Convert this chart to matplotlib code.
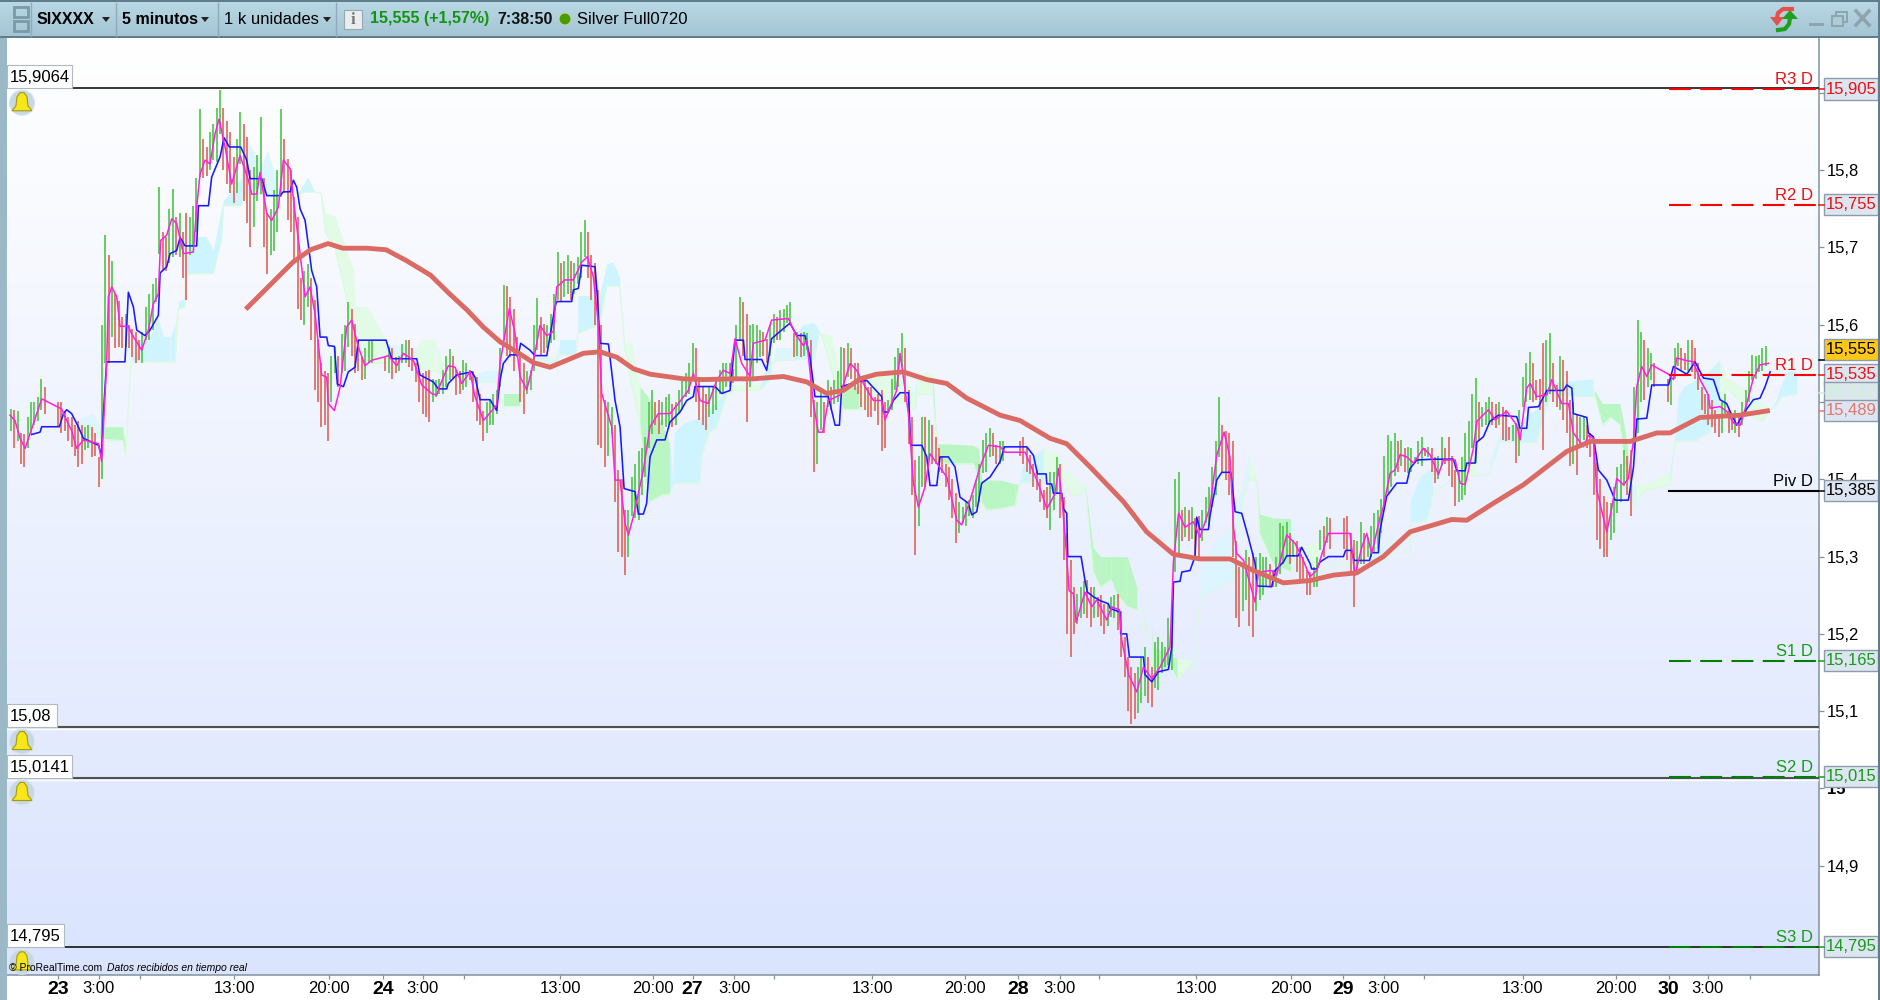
# -*- coding: utf-8 -*-
# 5 minute silver chart, trading platform look
import numpy as np
import matplotlib
matplotlib.use('Agg')
import matplotlib.pyplot as plt
from matplotlib.patches import Rectangle, Circle, Polygon

plt.rcParams['font.family'] = ['Liberation Sans', 'DejaVu Sans']

# x is hours of trading time since the start of day 23
# high / low of the sticks, one every half hour, starting at -3.5h
nan = float('nan')
stick_high = [
    15.491, 15.489, 15.459, 15.500, 15.507, 15.519, nan, 15.500, 15.489, 15.481,
    15.476, 15.468, 15.468, 15.429, 15.716, 15.683, 15.631, 15.614, 15.595, 15.580,
    15.623, 15.653, 15.778, 15.713, 15.776, 15.744, 15.744, 15.754, 15.879, 15.830,
    15.860, 15.904, 15.864, 15.817, 15.875, 15.843, 15.804, 15.869, 15.744, 15.774,
    15.879, 15.815, 15.765, 15.660, 15.679, 15.632, 15.550, 15.537, 15.571, 15.588,
    15.629, 15.601, 15.558, 15.580, nan, nan, 15.571, 15.558, 15.575, 15.580,
    15.550, 15.537, 15.541, 15.528, 15.541, 15.569, 15.541, 15.554, 15.541, 15.532,
    15.489, 15.502, 15.515, 15.651, 15.636, 15.584, 15.550, 15.541, 15.634, 15.601,
    15.614, 15.694, 15.683, 15.683, 15.688, 15.735, 15.690, 15.645, 15.502, 15.494,
    15.412, 15.360, 15.403, 15.436, 15.455, 15.515, 15.502, 15.507, 15.498, 15.515,
    15.537, 15.576, 15.533, 15.511, 15.520, 15.541, 15.550, 15.543, 15.636, 15.614,
    15.601, 15.593, 15.582, 15.614, 15.619, 15.625, 15.589, 15.589, 15.589, 15.502,
    15.515, 15.528, 15.528, 15.571, 15.576, 15.550, 15.528, 15.520, 15.507, 15.515,
    15.502, 15.558, 15.589, 15.515, 15.425, 15.481, 15.477, 15.455, 15.429, 15.416,
    15.382, 15.364, 15.373, 15.399, 15.451, 15.466, 15.444, 15.450, nan, nan,
    15.455, 15.431, 15.412, 15.386, 15.409, 15.429, 15.377, 15.295, 15.252, 15.269,
    15.261, 15.248, 15.239, 15.248, 15.252, 15.196, 15.157, 15.157, 15.183, 15.157,
    15.196, 15.183, 15.239, 15.409, 15.364, 15.364, 15.353, 15.377, 15.416, 15.506,
    15.463, 15.450, 15.287, 15.308, 15.304, 15.304, 15.300, 15.282, 15.343, 15.345,
    15.321, 15.312, 15.282, 15.287, 15.334, 15.351, nan, nan, 15.353, 15.321,
    15.345, 15.325, 15.356, 15.375, 15.457, 15.460, 15.451, 15.442, 15.429, 15.455,
    15.442, 15.429, 15.455, 15.455, 15.412, 15.429, 15.475, 15.531, 15.494, 15.507,
    15.498, 15.494, 15.468, 15.473, 15.533, 15.565, 15.529, 15.576, 15.589, 15.522,
    15.554, 15.503, 15.485, 15.481, 15.460, 15.421, 15.378, 15.369, 15.416, 15.438,
    15.438, 15.606, 15.580, 15.563, nan, nan, 15.535, 15.576, 15.563, 15.580,
    15.550, 15.511, 15.503, 15.485, 15.511, 15.485, 15.485, 15.516, 15.561, 15.561,
    15.572,
]
stick_low = [
    15.463, 15.450, 15.416, 15.459, 15.476, 15.485, nan, 15.468, 15.463, 15.442,
    15.416, 15.438, 15.429, 15.390, 15.550, 15.584, 15.571, 15.571, 15.558, 15.554,
    15.580, 15.593, 15.692, 15.670, 15.688, 15.688, 15.632, 15.700, 15.791, 15.793,
    15.813, 15.847, 15.782, 15.757, 15.808, 15.731, 15.726, 15.769, 15.666, 15.696,
    15.765, 15.735, 15.680, 15.606, 15.623, 15.515, 15.468, 15.450, 15.537, 15.537,
    15.571, 15.537, 15.528, 15.550, nan, nan, 15.537, 15.537, 15.550, 15.545,
    15.526, 15.485, 15.474, 15.507, 15.511, 15.528, 15.509, 15.515, 15.528, 15.476,
    15.450, 15.470, 15.485, 15.580, 15.558, 15.558, 15.485, 15.515, 15.567, 15.563,
    15.576, 15.632, 15.636, 15.632, 15.653, 15.688, 15.632, 15.445, 15.416, 15.459,
    15.306, 15.276, 15.352, 15.347, 15.403, 15.459, 15.459, 15.468, 15.468, 15.485,
    15.507, 15.533, 15.477, 15.464, 15.485, 15.511, 15.520, 15.524, 15.580, 15.474,
    15.533, 15.558, 15.550, 15.576, 15.580, 15.602, 15.558, 15.558, 15.567, 15.410,
    15.464, 15.494, 15.498, 15.520, 15.533, 15.515, 15.494, 15.481, 15.489, 15.436,
    15.485, 15.515, 15.545, 15.446, 15.302, 15.390, 15.425, 15.420, 15.408, 15.373,
    15.317, 15.343, 15.352, 15.364, 15.408, 15.429, 15.420, 15.424, nan, nan,
    15.420, 15.407, 15.386, 15.360, 15.334, 15.381, 15.295, 15.170, 15.213, 15.226,
    15.209, 15.222, 15.200, 15.222, 15.205, 15.144, 15.084, 15.097, 15.119, 15.106,
    15.127, 15.157, 15.153, 15.300, 15.325, 15.323, 15.295, 15.343, 15.364, 15.429,
    15.399, 15.300, 15.209, 15.244, 15.196, 15.244, 15.261, 15.261, 15.278, 15.300,
    15.300, 15.269, 15.250, 15.261, 15.308, 15.317, nan, nan, 15.295, 15.235,
    15.291, 15.300, 15.304, 15.330, 15.382, 15.404, 15.417, 15.408, 15.421, 15.417,
    15.429, 15.395, 15.417, 15.404, 15.365, 15.373, 15.417, 15.421, 15.468, 15.472,
    15.466, 15.451, 15.451, 15.421, 15.494, 15.503, 15.503, 15.438, 15.511, 15.494,
    15.477, 15.417, 15.406, 15.451, 15.429, 15.322, 15.300, 15.322, 15.356, 15.391,
    15.352, 15.460, 15.503, 15.529, nan, nan, 15.496, 15.546, 15.541, 15.539,
    15.516, 15.485, 15.468, 15.455, 15.481, 15.464, 15.455, 15.485, 15.529, 15.539,
    15.546,
]
# second set of sticks between the first ones, starting at -3.25h
inner_high = [
    15.49, 15.46, 15.48, 15.50, 15.53, nan, nan, 15.50, 15.48, 15.47,
    15.47, 15.47, 15.46, 15.60, 15.69, 15.64, 15.61, 15.60, 15.59, 15.59,
    15.64, 15.66, 15.72, 15.75, 15.74, 15.72, 15.74, 15.79, 15.84, 15.85,
    15.88, 15.88, 15.85, 15.84, 15.86, 15.80, 15.82, 15.79, 15.75, 15.80,
    15.84, 15.80, 15.74, 15.67, 15.66, 15.58, 15.54, 15.56, 15.56, 15.60,
    15.62, 15.58, 15.57, 15.58, nan, 15.56, 15.57, 15.56, 15.58, 15.57,
    15.54, 15.54, 15.53, 15.53, 15.56, 15.56, 15.54, 15.55, 15.54, 15.51,
    15.50, 15.51, 15.57, 15.65, 15.62, 15.56, 15.54, 15.60, 15.61, 15.60,
    15.64, 15.68, 15.69, 15.68, 15.72, 15.72, 15.68, 15.60, 15.50, 15.47,
    15.40, 15.36, 15.42, 15.44, 15.50, 15.50, 15.50, 15.51, 15.50, 15.53,
    15.55, 15.57, 15.52, 15.52, 15.53, 15.55, 15.55, 15.60, 15.63, 15.60,
    15.60, 15.59, 15.60, 15.61, 15.62, 15.63, 15.59, 15.59, 15.58, 15.50,
    15.50, 15.52, 15.54, 15.57, 15.57, 15.55, 15.53, 15.52, 15.51, 15.50,
    15.53, 15.57, 15.57, 15.48, 15.43, 15.48, 15.47, 15.44, 15.42, 15.40,
    15.37, 15.37, 15.38, 15.42, 15.46, 15.46, 15.45, nan, nan, 15.45,
    15.44, 15.42, 15.40, 15.39, 15.41, 15.42, 15.33, 15.26, 15.26, 15.27,
    15.26, 15.25, 15.24, 15.25, 15.23, 15.17, 15.15, 15.17, 15.17, 15.19,
    15.19, 15.22, 15.40, 15.36, 15.36, 15.35, 15.36, 15.39, 15.45, 15.47,
    15.46, 15.32, 15.29, 15.30, 15.30, 15.30, 15.29, 15.30, 15.34, 15.33,
    15.32, 15.30, 15.28, 15.30, 15.34, 15.35, nan, 15.35, 15.33, 15.32,
    15.33, 15.34, 15.36, 15.43, 15.45, 15.45, 15.44, 15.44, 15.45, 15.44,
    15.44, 15.43, 15.44, 15.43, 15.41, 15.46, 15.51, 15.50, 15.50, 15.50,
    15.50, 15.49, 15.47, 15.49, 15.55, 15.55, 15.53, 15.58, 15.55, 15.56,
    15.54, 15.50, 15.48, 15.47, 15.45, 15.40, 15.37, 15.39, 15.42, 15.43,
    15.52, 15.59, 15.57, 15.55, nan, 15.53, 15.57, 15.57, 15.58, 15.57,
    15.52, 15.51, 15.49, 15.50, 15.49, 15.49, 15.50, 15.54, 15.56, 15.57,
]
inner_low = [
    15.44, 15.42, 15.44, 15.47, 15.49, nan, nan, 15.46, 15.45, 15.43,
    15.42, 15.44, 15.43, 15.40, 15.55, 15.57, 15.57, 15.57, 15.55, 15.55,
    15.58, 15.63, 15.67, 15.68, 15.69, 15.66, 15.69, 15.72, 15.79, 15.80,
    15.81, 15.80, 15.77, 15.77, 15.76, 15.70, 15.76, 15.70, 15.69, 15.72,
    15.77, 15.72, 15.62, 15.60, 15.58, 15.50, 15.47, 15.50, 15.52, 15.54,
    15.56, 15.54, 15.53, 15.55, nan, 15.54, 15.53, 15.54, 15.55, 15.54,
    15.50, 15.48, 15.50, 15.51, 15.52, 15.53, 15.51, 15.52, 15.50, 15.47,
    15.46, 15.47, 15.52, 15.56, 15.54, 15.50, 15.51, 15.54, 15.56, 15.57,
    15.58, 15.63, 15.64, 15.64, 15.66, 15.66, 15.60, 15.44, 15.43, 15.37,
    15.30, 15.30, 15.35, 15.38, 15.44, 15.47, 15.47, 15.47, 15.47, 15.49,
    15.51, 15.50, 15.47, 15.48, 15.49, 15.51, 15.52, 15.53, 15.56, 15.52,
    15.55, 15.56, 15.56, 15.58, 15.59, 15.60, 15.56, 15.56, 15.48, 15.42,
    15.46, 15.49, 15.50, 15.52, 15.53, 15.51, 15.49, 15.48, 15.47, 15.44,
    15.49, 15.52, 15.50, 15.38, 15.34, 15.39, 15.42, 15.41, 15.39, 15.35,
    15.33, 15.34, 15.35, 15.37, 15.41, 15.43, 15.42, nan, nan, 15.43,
    15.41, 15.39, 15.37, 15.35, 15.36, 15.35, 15.20, 15.20, 15.22, 15.22,
    15.22, 15.21, 15.21, 15.22, 15.17, 15.10, 15.09, 15.11, 15.11, 15.13,
    15.15, 15.16, 15.28, 15.32, 15.32, 15.30, 15.32, 15.34, 15.38, 15.41,
    15.38, 15.22, 15.23, 15.21, 15.23, 15.25, 15.26, 15.26, 15.29, 15.29,
    15.28, 15.27, 15.25, 15.26, 15.30, 15.31, nan, 15.31, 15.28, 15.28,
    15.29, 15.30, 15.31, 15.36, 15.39, 15.41, 15.41, 15.41, 15.42, 15.43,
    15.41, 15.40, 15.42, 15.39, 15.37, 15.38, 15.44, 15.45, 15.47, 15.47,
    15.47, 15.45, 15.45, 15.43, 15.50, 15.50, 15.49, 15.50, 15.50, 15.49,
    15.46, 15.42, 15.44, 15.44, 15.38, 15.31, 15.30, 15.33, 15.37, 15.38,
    15.44, 15.50, 15.52, 15.52, nan, 15.50, 15.53, 15.54, 15.54, 15.53,
    15.49, 15.47, 15.46, 15.46, 15.46, 15.46, 15.47, 15.50, 15.53, 15.54,
]

# slow moving average (thick red line)
ma_h = [13.9, 15.45, 17.4, 18.7, 20.0, 21.1, 22.9, 24.3, 25.8, 27.6,
        29.0, 30.3, 31.5, 32.74, 33.97, 35.2, 36.44, 37.68, 38.91, 40.15,
        41.38, 42.62, 43.85, 45.09, 46.32, 47.8, 50.02, 51.5, 53.73, 55.46,
        56.94, 58.17, 59.41, 60.64, 62.6, 64.35, 65.83, 67.31, 69.78, 71.26,
        73.48, 74.72, 76.45, 78.92, 80.64, 82.62, 84.59, 86.82, 88.54, 90.77,
        92.74, 94.47, 96.2, 98.17, 100.15, 103.24, 104.35, 106.32, 108.55, 111.75,
        113.49, 116.45, 118.42, 119.41, 121.63, 124.6, 126.8]
ma_p = [15.62, 15.647, 15.681, 15.697, 15.705, 15.699, 15.699, 15.697, 15.683, 15.664,
        15.640, 15.619, 15.597, 15.578, 15.565, 15.551, 15.545, 15.554, 15.563, 15.565,
        15.558, 15.543, 15.536, 15.533, 15.530, 15.529, 15.530, 15.530, 15.533, 15.526,
        15.511, 15.515, 15.530, 15.536, 15.539, 15.529, 15.524, 15.505, 15.483, 15.476,
        15.453, 15.446, 15.416, 15.371, 15.332, 15.303, 15.297, 15.297, 15.282, 15.266,
        15.269, 15.276, 15.279, 15.300, 15.332, 15.348, 15.347, 15.369, 15.393, 15.436,
        15.449, 15.449, 15.460, 15.460, 15.480, 15.483, 15.489]

# stepped blue line
blue_h = [-1.95, -1.33, -1.21, 0.1, 0.4, 0.64, 1.01, 1.5, 1.88, 3.0,
          3.23, 3.36, 3.6, 4.96, 5.21, 5.58, 5.83, 6.44, 6.81, 7.43,
          7.56, 8.05, 8.3, 8.79, 9.04, 9.41, 10.27, 10.4, 11.14, 11.38,
          12.0, 12.3, 12.69, 13.53, 13.98, 14.22, 15.09, 15.46, 16.44, 16.69,
          17.19, 17.43, 17.68, 17.93, 18.3, 18.54, 18.79, 19.16, 19.41, 19.9,
          20.02, 20.47, 20.69, 21.14, 21.5, 22.0, 22.25, 24.3, 24.72, 26.57,
          26.81, 27.8, 28.17, 28.79, 28.91, 29.53, 30.64, 30.89, 31.26, 32.0,
          32.49, 32.74, 32.99, 33.48, 34.1, 34.27, 34.96, 35.33, 36.2, 36.81,
          36.94, 38.05, 38.17, 38.54, 38.79, 39.78, 39.95, 40.15, 40.77, 41.26,
          41.63, 41.93, 42.74, 42.99, 43.36, 43.6, 43.85, 44.35, 44.96, 45.33,
          46.07, 46.57, 47.06, 47.18, 48.67, 49.16, 49.78, 50.15, 50.77, 50.89,
          52.12, 52.49, 52.86, 53.73, 54.22, 54.72, 55.33, 55.7, 56.07, 57.06,
          57.56, 57.88, 58.05, 59.16, 59.9, 61.01, 61.14, 61.5, 61.88, 62.37,
          62.99, 63.16, 63.98, 64.35, 64.59, 65.09, 65.33, 65.95, 66.44, 66.81,
          67.43, 67.68, 68.05, 68.42, 69.04, 69.78, 70.1, 71.76, 72.25, 72.55,
          73.19, 73.24, 73.6, 73.73, 74.35, 74.47, 74.72, 74.79, 75.78, 76.07,
          76.25, 76.69, 77.19, 77.8, 77.93, 78.67, 78.72, 79.16, 79.36, 80.4,
          80.52, 81.02, 81.51, 82.25, 82.5, 82.62, 83.11, 83.24, 83.85, 84.22,
          84.35, 84.59, 85.21, 85.33, 85.83, 86.2, 86.87, 87.19, 87.68, 88.17,
          88.67, 88.84, 89.9, 90.15, 90.77, 91.01, 91.88, 92.12, 92.74, 92.86,
          93.24, 93.48, 94.1, 95.21, 95.38, 95.83, 96.0, 97.14, 97.31, 97.8,
          97.93, 98.42, 99.16, 99.9, 100.15, 100.65, 101.88, 103.36, 103.61, 104.23,
          104.35, 104.97, 105.09, 105.58, 106.07, 106.7, 108.05, 108.3, 108.79, 108.92,
          109.66, 110.28, 111.51, 111.76, 112.13, 112.25, 113.24, 113.36, 113.73, 114.1,
          114.72, 115.34, 116.32, 116.7, 116.94, 117.68, 118.05, 119.29, 119.66, 120.65,
          121.26, 121.88, 122.62, 123.11, 123.6, 123.85, 124.35, 124.84, 125.58, 126.07,
          126.45, 126.82]
blue_p = [15.458, 15.461, 15.468, 15.468, 15.485, 15.490, 15.485, 15.468, 15.453, 15.444,
          15.431, 15.485, 15.552, 15.552, 15.642, 15.623, 15.593, 15.586, 15.593, 15.612,
          15.667, 15.675, 15.692, 15.696, 15.713, 15.702, 15.702, 15.754, 15.754, 15.791,
          15.817, 15.842, 15.830, 15.830, 15.813, 15.789, 15.789, 15.767, 15.767, 15.772,
          15.772, 15.787, 15.778, 15.750, 15.735, 15.703, 15.670, 15.649, 15.584, 15.584,
          15.573, 15.572, 15.523, 15.520, 15.539, 15.545, 15.580, 15.580, 15.556, 15.556,
          15.535, 15.526, 15.517, 15.517, 15.524, 15.535, 15.539, 15.532, 15.503, 15.503,
          15.489, 15.528, 15.550, 15.561, 15.561, 15.576, 15.567, 15.560, 15.560, 15.623,
          15.630, 15.630, 15.645, 15.647, 15.677, 15.675, 15.636, 15.576, 15.575, 15.502,
          15.468, 15.388, 15.384, 15.355, 15.355, 15.369, 15.429, 15.451, 15.451, 15.474,
          15.487, 15.502, 15.507, 15.520, 15.520, 15.511, 15.515, 15.580, 15.580, 15.555,
          15.555, 15.541, 15.582, 15.595, 15.602, 15.586, 15.586, 15.558, 15.507, 15.507,
          15.470, 15.470, 15.520, 15.526, 15.528, 15.507, 15.487, 15.487, 15.502, 15.512,
          15.512, 15.444, 15.444, 15.429, 15.392, 15.392, 15.429, 15.429, 15.416, 15.377,
          15.369, 15.354, 15.358, 15.395, 15.403, 15.423, 15.442, 15.442, 15.431, 15.407,
          15.407, 15.394, 15.394, 15.382, 15.382, 15.362, 15.356, 15.300, 15.300, 15.269,
          15.254, 15.248, 15.243, 15.239, 15.233, 15.228, 15.200, 15.200, 15.170, 15.170,
          15.147, 15.138, 15.151, 15.154, 15.183, 15.267, 15.268, 15.280, 15.282, 15.300,
          15.351, 15.335, 15.335, 15.353, 15.399, 15.409, 15.409, 15.358, 15.356, 15.325,
          15.291, 15.262, 15.261, 15.282, 15.293, 15.301, 15.301, 15.312, 15.291, 15.284,
          15.284, 15.293, 15.300, 15.300, 15.308, 15.308, 15.295, 15.295, 15.305, 15.305,
          15.335, 15.378, 15.395, 15.395, 15.414, 15.425, 15.426, 15.426, 15.411, 15.411,
          15.421, 15.421, 15.448, 15.455, 15.475, 15.483, 15.481, 15.466, 15.466, 15.493,
          15.494, 15.515, 15.515, 15.522, 15.518, 15.485, 15.480, 15.460, 15.455, 15.412,
          15.399, 15.373, 15.373, 15.416, 15.478, 15.479, 15.522, 15.522, 15.546, 15.536,
          15.552, 15.531, 15.529, 15.503, 15.498, 15.488, 15.470, 15.485, 15.503, 15.505,
          15.520, 15.539]

# fast magenta line
mag_h = [-3.56, -3.19, -2.81, -2.44, -2.07, -1.58, -1.21, 0.27, 0.64, 1.01,
         1.38, 1.88, 2.99, 3.23, 3.6, 3.73, 3.98, 4.35, 4.59, 5.21,
         5.46, 6.2, 6.69, 7.06, 7.43, 7.6, 8.05, 8.42, 8.79, 9.28,
         10.02, 10.27, 10.52, 10.89, 11.26, 11.63, 11.93, 12.37, 12.86, 13.48,
         14.1, 14.35, 14.72, 14.96, 15.46, 15.83, 16.32, 16.69, 17.19, 17.56,
         17.93, 18.3, 18.67, 19.04, 19.53, 19.9, 20.02, 20.47, 20.89, 21.38,
         21.75, 22.25, 22.74, 23.23, 24.1, 24.47, 25.09, 25.58, 26.32, 26.94,
         27.68, 28.05, 28.3, 28.91, 29.41, 29.9, 30.52, 30.89, 31.51, 32.49,
         32.74, 32.99, 33.43, 33.85, 34.22, 34.72, 35.09, 35.7, 36.2, 36.69,
         36.94, 37.56, 38.17, 38.79, 39.21, 39.65, 40.02, 40.27, 41.01, 41.26,
         41.63, 42.0, 42.25, 42.62, 43.36, 43.85, 44.47, 45.33, 45.95, 46.69,
         47.06, 47.56, 48.17, 48.79, 49.28, 49.78, 50.15, 50.64, 51.26, 51.5,
         52.37, 52.86, 54.1, 54.59, 55.21, 55.46, 55.95, 56.32, 56.64, 57.06,
         57.93, 58.67, 59.16, 59.78, 60.4, 61.01, 61.26, 62.12, 62.37, 62.99,
         63.36, 63.73, 64.22, 64.59, 65.83, 66.57, 66.94, 67.56, 68.3, 68.91,
         69.78, 70.15, 71.63, 72.0, 72.62, 73.24, 73.85, 74.1, 74.35, 74.72,
         74.89, 75.21, 75.41, 76.07, 76.57, 76.94, 77.68, 78.05, 78.62, 78.79,
         79.31, 79.9, 80.4, 81.02, 81.63, 82.37, 82.62, 83.0, 83.48, 84.1,
         84.59, 85.33, 85.83, 86.37, 86.81, 87.07, 87.31, 87.81, 88.67, 88.91,
         89.9, 90.27, 91.01, 91.63, 92.12, 92.74, 93.24, 94.1, 95.7, 96.07,
         96.57, 96.94, 97.31, 97.93, 98.18, 98.67, 99.04, 99.41, 99.9, 100.4,
         101.14, 101.63, 102.25, 102.62, 103.49, 103.86, 104.23, 104.84, 105.09, 105.95,
         106.45, 107.31, 108.05, 108.3, 108.79, 109.04, 109.53, 110.28, 110.65, 111.38,
         111.88, 112.25, 112.99, 113.36, 113.73, 113.98, 114.72, 115.09, 115.46, 115.95,
         116.32, 116.7, 116.94, 117.31, 117.68, 118.05, 119.29, 119.66, 119.9, 120.52,
         121.14, 121.63, 122.25, 122.37, 123.11, 123.6, 124.1, 124.6, 125.09, 125.58,
         126.07, 126.69]
mag_p = [15.483, 15.476, 15.453, 15.440, 15.459, 15.485, 15.504, 15.491, 15.476, 15.463,
         15.440, 15.451, 15.446, 15.423, 15.550, 15.636, 15.649, 15.636, 15.598, 15.598,
         15.588, 15.567, 15.593, 15.627, 15.640, 15.709, 15.716, 15.737, 15.731, 15.692,
         15.694, 15.752, 15.795, 15.813, 15.808, 15.847, 15.866, 15.830, 15.782, 15.819,
         15.787, 15.769, 15.769, 15.797, 15.744, 15.735, 15.752, 15.813, 15.802, 15.744,
         15.692, 15.636, 15.649, 15.614, 15.535, 15.532, 15.498, 15.489, 15.519, 15.597,
         15.606, 15.571, 15.547, 15.554, 15.558, 15.560, 15.547, 15.563, 15.554, 15.522,
         15.511, 15.509, 15.522, 15.547, 15.545, 15.524, 15.539, 15.507, 15.476, 15.496,
         15.550, 15.576, 15.621, 15.589, 15.533, 15.516, 15.541, 15.599, 15.586, 15.591,
         15.649, 15.658, 15.658, 15.681, 15.688, 15.662, 15.602, 15.511, 15.468, 15.399,
         15.399, 15.343, 15.328, 15.352, 15.412, 15.468, 15.485, 15.485, 15.498, 15.515,
         15.537, 15.502, 15.498, 15.528, 15.541, 15.537, 15.582, 15.550, 15.533, 15.576,
         15.580, 15.606, 15.608, 15.589, 15.573, 15.580, 15.498, 15.461, 15.461, 15.502,
         15.509, 15.550, 15.541, 15.520, 15.502, 15.502, 15.477, 15.515, 15.563, 15.485,
         15.395, 15.364, 15.390, 15.433, 15.403, 15.347, 15.341, 15.373, 15.416, 15.444,
         15.442, 15.435, 15.435, 15.420, 15.394, 15.362, 15.381, 15.414, 15.377, 15.300,
         15.256, 15.252, 15.215, 15.254, 15.235, 15.244, 15.218, 15.235, 15.231, 15.192,
         15.147, 15.125, 15.157, 15.142, 15.157, 15.183, 15.293, 15.356, 15.338, 15.345,
         15.325, 15.364, 15.431, 15.461, 15.429, 15.338, 15.304, 15.295, 15.241, 15.280,
         15.282, 15.276, 15.328, 15.317, 15.300, 15.274, 15.282, 15.330, 15.330, 15.276,
         15.312, 15.330, 15.304, 15.351, 15.365, 15.408, 15.412, 15.432, 15.429, 15.421,
         15.440, 15.432, 15.406, 15.425, 15.425, 15.395, 15.393, 15.440, 15.475, 15.490,
         15.477, 15.488, 15.470, 15.451, 15.518, 15.524, 15.507, 15.509, 15.529, 15.498,
         15.498, 15.460, 15.442, 15.457, 15.453, 15.386, 15.332, 15.363, 15.401, 15.393,
         15.401, 15.451, 15.520, 15.546, 15.533, 15.548, 15.536, 15.529, 15.557, 15.554,
         15.552, 15.529, 15.509, 15.492, 15.494, 15.488, 15.473, 15.470, 15.498, 15.531,
         15.548, 15.550]

# cloud: kind is the fill of the stretch that starts at that point
cloud_h = [1.5, 2.6, 3.1, 4.8, 5.0, 5.4, 5.6, 6.3, 6.8, 7.4,
           7.8, 8.3, 8.67, 8.9, 9.4, 9.45, 10.3, 11.0, 11.5, 12.1,
           12.25, 13.6, 13.7, 15.1, 15.5, 15.8, 16.5, 17.9, 18.5, 19.0,
           19.5, 19.8, 20.5, 21.3, 21.9, 22.0, 22.9, 24.2, 24.3, 26.5,
           26.9, 28.0, 28.6, 30.0, 31.5, 32.7, 33.0, 34.2, 35.2, 36.5,
           36.8, 37.2, 38.4, 38.5, 40.1, 40.65, 41.1, 41.6, 42.0, 42.5,
           43.1, 43.7, 44.85, 45.3, 45.55, 45.65, 46.3, 47.5, 47.7, 48.2,
           48.8, 49.5, 50.0, 52.0, 52.8, 52.9, 53.2, 54.4, 54.7, 55.2,
           56.0, 56.4, 56.6, 57.3, 58.0, 58.2, 59.3, 59.5, 62.6, 63.5,
           63.6, 64.8, 65.1, 65.4, 67.8, 68.2, 68.4, 68.8, 69.8, 70.9,
           71.2, 71.4, 72.25, 73.0, 74.0, 74.5, 75.1, 75.7, 76.1, 76.65,
           77.2, 78.0, 78.4, 79.2, 79.9, 80.4, 80.5, 81.0, 81.1, 82.5,
           82.9, 84.1, 84.2, 84.6, 85.6, 87.0, 87.1, 87.7, 88.2, 88.8,
           89.0, 90.0, 91.3, 92.0, 92.5, 93.5, 94.4, 95.5, 96.0, 97.0,
           98.0, 98.9, 100.15, 100.2, 100.9, 101.4, 101.8, 103.2, 105.1, 106.0,
           106.8, 108.0, 109.5, 110.5, 113.7, 113.8, 114.4, 115.0, 115.7, 116.1,
           116.6, 116.9, 117.5, 119.4, 119.8, 120.0, 120.4, 121.4, 121.7, 122.3,
           123.1, 123.6, 124.6, 125.6, 126.2, 126.8, 127.2, 127.7, 128.1, 128.8]
cloud_top = [15.478, 15.485, 15.468, 15.468, 15.44, 15.552, 15.575, 15.584, 15.584, 15.61,
             15.584, 15.584, 15.60, 15.63, 15.634, 15.70, 15.713, 15.713, 15.696, 15.75,
             15.76, 15.79, 15.847, 15.808, 15.825, 15.81, 15.77, 15.774, 15.791, 15.772,
             15.77, 15.744, 15.741, 15.70, 15.67, 15.625, 15.623, 15.584, 15.575, 15.57,
             15.58, 15.58, 15.545, 15.53, 15.54, 15.54, 15.510, 15.510, 15.558, 15.558,
             15.556, 15.58, 15.58, 15.638, 15.638, 15.679, 15.681, 15.662, 15.576, 15.576,
             15.52, 15.507, 15.468, 15.446, 15.395, 15.46, 15.472, 15.48, 15.48, 15.49,
             15.5, 15.515, 15.522, 15.522, 15.56, 15.554, 15.57, 15.57, 15.59, 15.60,
             15.603, 15.59, 15.589, 15.586, 15.52, 15.52, 15.52, 15.536, 15.535, 15.51,
             15.537, 15.537, 15.446, 15.446, 15.444, 15.44, 15.399, 15.399, 15.399, 15.394,
             15.394, 15.416, 15.431, 15.44, 15.435, 15.412, 15.407, 15.394, 15.394, 15.312,
             15.300, 15.3, 15.3, 15.3, 15.261, 15.231, 15.21, 15.21, 15.183, 15.169,
             15.169, 15.166, 15.15, 15.282, 15.317, 15.343, 15.36, 15.39, 15.435, 15.40,
             15.355, 15.35, 15.349, 15.308, 15.315, 15.32, 15.295, 15.295, 15.29, 15.317,
             15.31, 15.33, 15.36, 15.373, 15.404, 15.41, 15.415, 15.425, 15.425, 15.425,
             15.46, 15.475, 15.49, 15.525, 15.53, 15.515, 15.498, 15.498, 15.498, 15.46,
             15.39, 15.395, 15.393, 15.41, 15.46, 15.507, 15.52, 15.53, 15.53, 15.54,
             15.555, 15.533, 15.52, 15.51, 15.50, 15.49, 15.50, 15.525, 15.54, 15.54]
cloud_bot = [15.468, 15.468, 15.452, 15.450, 15.429, 15.552, 15.552, 15.552, 15.552, 15.552,
             15.552, 15.552, 15.552, 15.62, 15.623, 15.666, 15.666, 15.666, 15.666, 15.71,
             15.754, 15.754, 15.769, 15.769, 15.769, 15.769, 15.769, 15.77, 15.772, 15.772,
             15.77, 15.72, 15.70, 15.64, 15.58, 15.565, 15.55, 15.55, 15.56, 15.56,
             15.54, 15.54, 15.535, 15.53, 15.525, 15.525, 15.494, 15.494, 15.55, 15.55,
             15.55, 15.561, 15.561, 15.589, 15.60, 15.65, 15.65, 15.65, 15.565, 15.52,
             15.47, 15.37, 15.38, 15.38, 15.392, 15.395, 15.395, 15.395, 15.43, 15.46,
             15.468, 15.51, 15.515, 15.515, 15.53, 15.55, 15.554, 15.554, 15.555, 15.555,
             15.555, 15.59, 15.585, 15.54, 15.50, 15.49, 15.49, 15.49, 15.50, 15.49,
             15.51, 15.51, 15.446, 15.42, 15.42, 15.40, 15.37, 15.36, 15.362, 15.366,
             15.394, 15.396, 15.395, 15.395, 15.408, 15.40, 15.38, 15.38, 15.39, 15.282,
             15.26, 15.27, 15.252, 15.235, 15.231, 15.231, 15.198, 15.198, 15.155, 15.155,
             15.14, 15.166, 15.149, 15.248, 15.258, 15.27, 15.27, 15.37, 15.40, 15.398,
             15.33, 15.29, 15.28, 15.295, 15.29, 15.28, 15.29, 15.29, 15.28, 15.29,
             15.293, 15.304, 15.304, 15.345, 15.345, 15.347, 15.38, 15.40, 15.405, 15.405,
             15.448, 15.448, 15.448, 15.507, 15.507, 15.51, 15.47, 15.48, 15.47, 15.41,
             15.365, 15.37, 15.385, 15.393, 15.45, 15.45, 15.45, 15.45, 15.455, 15.46,
             15.49, 15.52, 15.50, 15.48, 15.475, 15.49, 15.495, 15.507, 15.508, 15.51]
cloud_kind = ('llggpbbbbb' 'bbpbbbbbbb' 'bbllllwbbp' 'pppppppllp'
              'ppwllwgwlp' 'lbwbbbbppp' 'gggbbbbbbb' 'bppbwplbbb'
              'bpppgglppb' 'pggggggggg' 'bbbpppppgg' 'ggggwgwggg'
              'ppllllllpg' 'gglppwwlpl' 'lwbbbbwpwl' 'bbbbpggggg'
              'lppbbbbbbb' 'pppppbbbbw')

# alert lines on the left, pivot levels on the right
alert_values = [15.9064, 15.08, 15.0141, 14.795]
alert_labels = ['15,9064', '15,08', '15,0141', '14,795']
pivot_values = [15.905, 15.755, 15.535, 15.385, 15.165, 15.015, 14.795]
pivot_names = ['R3 D', 'R2 D', 'R1 D', 'Piv D', 'S1 D', 'S2 D', 'S3 D']
pivot_colors = ['#ff0000', '#ff0000', '#ff0000', '#000000', '#008000', '#008000', '#008000']
pivot_text = ['#e81010', '#e81010', '#e81010', '#000000', '#1a9a1a', '#1a9a1a', '#1a9a1a']

# value boxes of the price scale, the 15,555 box sits a bit above its price
box_values = [15.905, 15.755, 15.555, 15.535, 15.512, 15.489, 15.385, 15.165, 15.015, 14.795]
box_places = [15.905, 15.755, 15.568, 15.535, 15.512, 15.489, 15.385, 15.165, 15.015, 14.795]
box_labels = ['15,905', '15,755', '15,555', '15,535', '15,512', '15,489', '15,385', '15,165', '15,015', '14,795']
box_text = ['#e81010', '#e81010', '#000000', '#e81010', '#c8f5cc', '#e07870', '#000000', '#1a9a1a', '#1a9a1a', '#1a9a1a']
box_fill = ['#dde5f1', '#dde5f1', '#ffc814', '#dde5f1', '#dde5f1', '#dde5f1', '#dde5f1', '#dde5f1', '#dde5f1', '#dde5f1']

ytick_values = [15.9, 15.8, 15.7, 15.6, 15.5, 15.4, 15.3, 15.2, 15.1, 15.0, 14.9]
ytick_labels = ['', '15,8', '15,7', '15,6', '', '15,4', '15,3', '15,2', '15,1', '15', '14,9']

day_ticks = [0, 24.07, 47.0, 71.1, 95.2, 119.3]
day_labels = ['23', '24', '27', '28', '29', '30']
hour_ticks = [3.0, 13.04, 20.07, 27.0, 37.2, 44.1, 50.1, 60.3, 67.2, 74.2, 84.3, 91.3, 98.2, 108.5, 115.4, 122.2]
hour_labels = ['3:00', '13:00', '20:00', '3:00', '13:00', '20:00', '3:00', '13:00', '20:00',
               '3:00', '13:00', '20:00', '3:00', '13:00', '20:00', '3:00']
blank_ticks = [6.07, 30.07, 53.0, 77.1, 101.2, 125.3]

assert len(stick_high) == len(stick_low)
assert len(inner_high) == len(inner_low)
assert len(ma_h) == len(ma_p)
assert len(blue_h) == len(blue_p)
assert len(mag_h) == len(mag_p)
assert len(cloud_h) == len(cloud_top) == len(cloud_bot) == len(cloud_kind)

fig = plt.figure(figsize=(18.8, 10), dpi=100, facecolor='white')
ax = fig.add_axes([7 / 1880, 1 - 975 / 1000, 1812 / 1880, 937 / 1000])
left, right = -3.78, 130.44
low, high = 14.7586, 15.971

# background gets bluer towards the bottom
grad = np.linspace(0, 1, 256)[:, None, None] * (np.array([0.855, 0.894, 0.996]) - 1) + 1
ax.imshow(grad, extent=(left, right, low, high), aspect='auto', zorder=0)

# cloud
kind_colors = {'b': '#cdf4ff', 'l': '#dcf5ff', 'g': '#baf5c4', 'p': '#e2fbe6'}
for i in range(len(cloud_h) - 1):
    if cloud_kind[i] == 'w':
        continue
    ax.fill_between(cloud_h[i:i + 2], cloud_bot[i:i + 2], cloud_top[i:i + 2],
                    color=kind_colors[cloud_kind[i]], lw=0, zorder=1)
ax.plot(cloud_h, cloud_bot, color='#dafbdf', lw=0.9, zorder=1.2)

# sticks, green when the mid price went up
hours = np.concatenate([np.arange(len(stick_high)) * 0.5 - 3.5, np.arange(len(inner_high)) * 0.5 - 3.25])
highs = np.array(stick_high + inner_high)
lows = np.array(stick_low + inner_low)
order = np.argsort(hours)
hours, highs, lows = hours[order], highs[order], lows[order]
mid = (highs + lows) / 2
prev = np.roll(mid, 1)
prev[0] = mid[0]
up = mid >= prev
ax.vlines(hours[up], lows[up], highs[up], color='#55c64f', lw=1.25, zorder=2)
ax.vlines(hours[~up], lows[~up], highs[~up], color='#de6a62', lw=1.25, zorder=2)

ax.plot(blue_h, blue_p, color='#1a1aff', lw=1.15, zorder=3)
ax.plot(mag_h, mag_p, color='#ff20e0', lw=1.1, zorder=3.1)
ax.plot(ma_h, ma_p, color='#dc6a64', lw=3.5, zorder=4, solid_capstyle='butt')

# alert lines and their labels
lt = ax.get_yaxis_transform()
for v, lab in zip(alert_values, alert_labels):
    if lab in ('15,08', '15,0141'):
        ax.axhline(v, color='#505050', lw=1.5, zorder=5)
        ax.axhline(v - 0.003, color='white', lw=1.0, zorder=5)
    else:
        ax.axhline(v, color='black', lw=1.1, zorder=5)
    w = (len(lab) * 7.9 + 10) / 1812
    ax.add_patch(Rectangle((0, v), w, 0.0298, transform=lt, facecolor='white',
                           edgecolor='#b0b8c0', lw=0.8, zorder=6))
    ax.text(0.0015, v + 0.0135, lab, transform=lt, fontsize=12, va='center', ha='left', zorder=7)

# pivot levels
for v, name, col, tcol in zip(pivot_values, pivot_names, pivot_colors, pivot_text):
    if name == 'Piv D':
        ax.plot([119.3, right], [v, v], color=col, lw=1.5, zorder=5.5)
    else:
        ax.plot([119.3, right], [v, v], color=col, lw=1.5, zorder=5.5,
                dashes=(10.5, 4.5), dash_capstyle='butt')
    ax.text(0.9967, v + 0.0125, name, transform=lt, fontsize=12, color=tcol,
            ha='right', va='center', zorder=6)

ax.set_xlim(left, right)
ax.set_ylim(low, high)

# price scale
ax.yaxis.tick_right()
ax.set_yticks(ytick_values)
ax.set_yticklabels(ytick_labels, fontsize=12)
ax.tick_params(axis='y', length=3.6, width=0.9, color='#7f929e', pad=2.2)
ax.get_yticklabels()[ytick_labels.index('15')].set_fontweight('bold')

# time scale
ax.set_xticks(day_ticks + hour_ticks + blank_ticks)
ax.set_xticklabels(day_labels + hour_labels + [''] * len(blank_ticks), fontsize=12)
for t in ax.get_xticklabels()[:len(day_labels)]:
    t.set_fontweight('bold')
    t.set_fontsize(14)
ax.tick_params(axis='x', length=3, width=0.9, color='#7f929e', pad=1.5)

for name in ['top', 'left']:
    ax.spines[name].set_visible(False)
ax.spines['right'].set_color('#7f929e')
ax.spines['right'].set_linewidth(1.1)
ax.spines['bottom'].set_color('#7f929e')
ax.spines['bottom'].set_linewidth(1.1)

# value boxes over the scale, they hide part of some tick labels like the real one
for v, y, lab, tcol, fill in zip(box_values, box_places, box_labels, box_text, box_fill):
    ax.add_patch(Rectangle((1.0028, y - 0.0136), 0.0296, 0.0272, transform=lt, facecolor=fill,
                           edgecolor='#8d9cab', lw=1.0, clip_on=False, zorder=8))
    ax.plot([1.0, 1.0028], [v, v], transform=lt, color=tcol, lw=1.1, clip_on=False, zorder=8)
    ax.text(1.0176, y, lab, transform=lt, fontsize=12, color=tcol, ha='center', va='center',
            clip_on=False, zorder=9)

# window frame, drawn in pixels on a second axes
chrome = fig.add_axes([0, 0, 1, 1], zorder=20)
chrome.patch.set_alpha(0)
chrome.axis('off')
bar = np.linspace(0, 1, 64)[:, None, None] * (np.array([0.64, 0.77, 0.83]) - np.array([0.73, 0.85, 0.90])) \
    + np.array([0.73, 0.85, 0.90])
chrome.imshow(bar, extent=(0, 1880, 37, 0), aspect='auto')
chrome.set_xlim(0, 1880)
chrome.set_ylim(1000, 0)
chrome.add_patch(Rectangle((0, 0), 1880, 2, color='#5f7d8c', lw=0))
chrome.add_patch(Rectangle((0, 36), 1880, 2, color='#5f7d8c', lw=0))
chrome.add_patch(Rectangle((0, 38), 7, 962, color='#9bb8c6', lw=0))
chrome.add_patch(Rectangle((1878, 0), 2, 1000, color='#5f7d8c', lw=0))

for x in [31, 116, 218, 336]:
    chrome.plot([x, x], [3, 36], color='#8fabb9', lw=1)
for y in [12, 26]:
    chrome.add_patch(Rectangle((14, y - 5), 14, 10, facecolor='none', edgecolor='#7d98a6', lw=2))

chrome.text(37, 19, 'SIXXXX', fontsize=11.5, fontweight='bold', va='center')
chrome.text(122, 19, '5 minutos', fontsize=11.5, fontweight='bold', va='center')
chrome.text(224, 19, '1 k unidades', fontsize=12, va='center')
for x in [106, 205, 327]:
    chrome.add_patch(Polygon([(x - 4, 17), (x + 4, 17), (x, 22)], color='#222222', lw=0))
chrome.add_patch(Rectangle((344, 10), 18, 19, facecolor='#e8eef0', edgecolor='#9aa8ae', lw=0.8))
chrome.text(353, 19.5, 'i', fontsize=12, fontweight='bold', color='#777777', ha='center', va='center',
            family='Liberation Serif')
chrome.text(370, 19, '15,555 (+1,57%)', fontsize=11.5, fontweight='bold', color='#129412', va='center')
chrome.text(497, 19, '7:38:50', fontsize=11.5, fontweight='bold', color='#111111', va='center')
chrome.add_patch(Circle((565, 19), 6, facecolor='#4b9a00', edgecolor='#b9d5a0', lw=0.8))
chrome.text(577, 19, 'Silver Full0720', fontsize=12, va='center')

# refresh arrows and window buttons
chrome.plot([1777, 1778, 1783, 1792], [18, 13, 9, 9], color='#e8504a', lw=3)
chrome.add_patch(Polygon([(1770, 17), (1784, 17), (1777, 26)], color='#e8504a', lw=0))
chrome.plot([1790, 1789, 1785, 1778], [18, 24, 29, 30], color='#1ea01e', lw=3)
chrome.add_patch(Polygon([(1782, 19), (1798, 19), (1790, 10)], color='#1ea01e', lw=0))
chrome.add_patch(Rectangle((1809, 23), 15, 3, color='#8ea3ae', lw=0))
chrome.add_patch(Rectangle((1836, 12), 11, 10, facecolor='none', edgecolor='#8ea3ae', lw=1.4))
chrome.add_patch(Rectangle((1832, 16), 11, 10, facecolor='#aecbd8', edgecolor='#8ea3ae', lw=1.4))
chrome.plot([1856, 1869], [11, 25], color='#8ea3ae', lw=2.6)
chrome.plot([1869, 1856], [11, 25], color='#8ea3ae', lw=2.6)


def bell(cx, cy):
    chrome.add_patch(Circle((cx, cy), 12.5, facecolor='#c6d8e3', edgecolor='#d9e4ea', lw=0.8, zorder=3))
    pts = [(cx - 10, cy + 8), (cx - 6, cy + 3), (cx - 5, cy - 6), (cx - 2, cy - 10), (cx + 2, cy - 10),
           (cx + 5, cy - 6), (cx + 6, cy + 3), (cx + 10, cy + 8)]
    chrome.add_patch(Polygon(pts, facecolor='#f7e61a', edgecolor='#a79a10', lw=0.8, zorder=4))


# bells sit just below each alert line
for v in alert_values:
    py = 170 + (15.8 - v) * 773
    bell(22, py + 15)

chrome.text(9, 968, '© ProRealTime.com', fontsize=7.5, va='center', zorder=6)
chrome.text(107, 968, 'Datos recibidos en tiempo real', fontsize=7.5, style='italic', va='center', zorder=6)

fig.savefig('out.png', dpi=100, facecolor='white')
